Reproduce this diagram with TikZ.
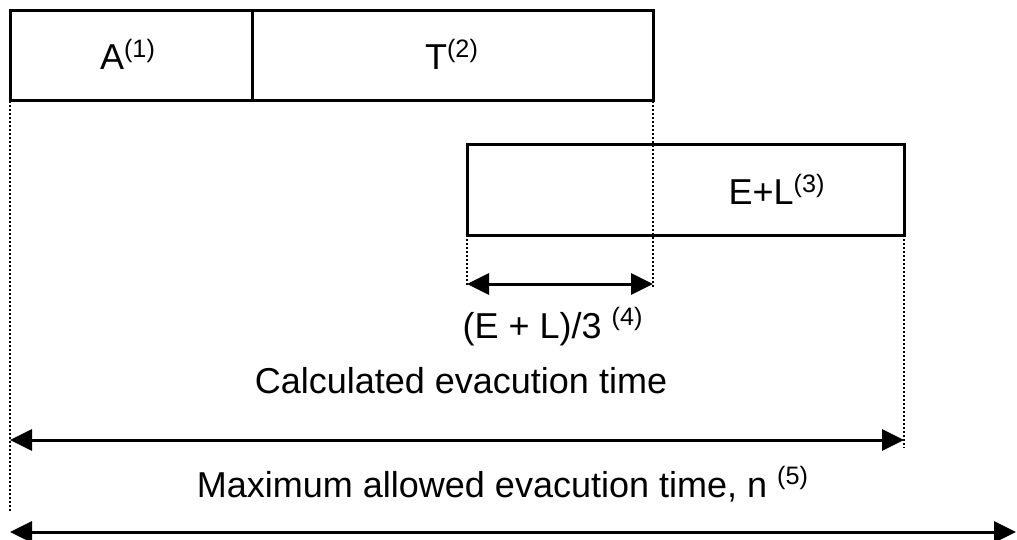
\documentclass[tikz,border=0pt]{standalone}
\usepackage{fontspec}
\setmainfont{Liberation Sans}
\usetikzlibrary{arrows.meta,positioning}

\tikzset{
  phase/.style={draw, line width=1.5pt, minimum height=45pt, inner sep=0pt, outer sep=0pt},
  guide/.style={densely dotted, line width=1pt},
  span/.style={{Triangle[length=11pt,width=10.5pt]}-{Triangle[length=11pt,width=10.5pt]}, line width=1.5pt},
  txt/.style={anchor=base, inner sep=0pt, font=\fontsize{18}{21}\selectfont},
}

\begin{document}
\begin{tikzpicture}[x=0.5pt, y=-0.5pt]
        \useasboundingbox (0,0) rectangle (1017,540);
        % phase boxes
        \node[phase, minimum width=121pt, anchor=north west] (a) at (10,11) {};
        \node[phase, minimum width=200.5pt, right=0pt of a] (t) {};
        \node[phase, minimum width=218.5pt, anchor=north west] (el) at (467,145) {};
        \node[txt] (alabel) at (128,70) {A\textsuperscript{(1)}};
        \node[txt] (tlabel) at (452,70) {T\textsuperscript{(2)}};
        \node[txt] (ellabel) at (777,205) {E+L\textsuperscript{(3)}};
        % guide lines
        \coordinate (g0) at (10,511);
        \coordinate (g1) at (467,287);
        \coordinate (g2) at (653,287);
        \coordinate (g3) at (904,448);
        \draw[guide] (a.south west) -- (g0);
        \draw[guide] (t.south east) -- (g2);
        \draw[guide] (el.south west) -- (g1);
        \draw[guide] (el.south east) -- (g3);
        % spans
        \coordinate (s1l) at (467,284);
        \coordinate (s1r) at (653,284);
        \coordinate (s2l) at (10,440);
        \coordinate (s2r) at (904,440);
        \coordinate (s3l) at (10,532);
        \coordinate (s3r) at (1016,532);
        \draw[span] (s1l) -- (s1r);
        \draw[span] (s2l) -- (s2r);
        \draw[span] (s3l) -- (s3r);
        \node[txt] (third) at (553,338) {(E + L)/3 \textsuperscript{(4)}};
        \node[txt] (calc) at (461,393) {Calculated evacution time};
        \node[txt] (maxn) at (503,497) {Maximum allowed evacution time, n \textsuperscript{(5)}};
      \end{tikzpicture}
\end{document}
